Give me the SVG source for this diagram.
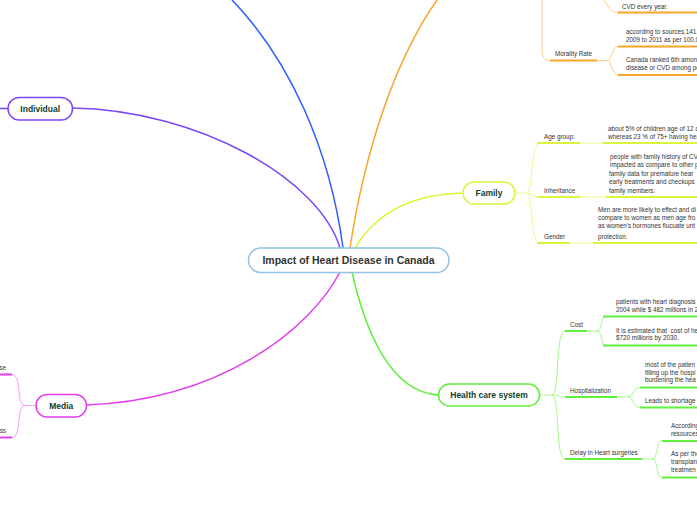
<svg xmlns="http://www.w3.org/2000/svg" width="697" height="520" viewBox="0 0 697 520">
<style>
.nt{font-family:"Liberation Sans",Arial,sans-serif;font-weight:bold;font-size:8.5px;fill:#10402f;text-anchor:middle}
.ct{font-family:"Liberation Sans",Arial,sans-serif;font-weight:bold;font-size:10.5px;fill:#333;text-anchor:middle}
.st{font-family:"Liberation Sans",Arial,sans-serif;font-size:6.3px;fill:#333;white-space:pre}
.main{fill:none;stroke-width:1.5}
.thin{fill:none;stroke-width:1}
.thick{fill:none;stroke-width:2}
.node{fill:#fff;stroke-width:1.5}
</style>
<rect width="697" height="520" fill="#fff"/>
<g id="connectors">
  <!-- main branches -->
  <path class="main" stroke="#2f5cff" d="M343,248 C330,150 290,60 232,0"/>
  <path class="main" stroke="#f9a52a" d="M350,248 C365,150 395,60 437,0"/>
  <path class="main" stroke="#7d46f5" d="M340,248 C320,180 200,110 72,108"/>
  <path class="main" stroke="#e33cf0" d="M340,272 C310,330 220,400 86,405"/>
  <path class="main" stroke="#dcf53c" d="M355,248 C375,215 410,194 463,193"/>
  <path class="main" stroke="#5ff03c" d="M352,272 C365,330 390,392 438,395"/>
  <!-- individual -->
  <path class="main" stroke="#7d46f5" d="M0,108.5 L8,108.5"/>
  <!-- orange top -->
  <path class="thin" stroke="#fcd08a" d="M542,0 L542,50 C542,58 545,60.5 550,60.5"/>
  <path class="thick" stroke="#f9a52a" d="M550,60.5 L597,60.5"/>
  <path class="thin" stroke="#fcd08a" d="M597,60.5 L607,60.5 C612,60.5 612,46.5 618,46.5 M607,60.5 C612,60.5 612,75 618,75 M604,0 C608,5 609,12.5 618,12.5"/>
  <path class="thick" stroke="#f9a52a" d="M618,12.5 L697,12.5 M618,46.5 L697,46.5 M618,75 L697,75"/>
  <!-- family -->
  <path class="thin" stroke="#ecfb8c" d="M515,193 L527,193 C533,193 530,143 540,143 M527,193 C532,193 533,197 540,197 M527,193 C533,193 530,243 540,243"/>
  <path class="thick" stroke="#dcf53c" d="M537,143 L580,143 M537,197 L580,197 M537,243 L570,243"/>
  <path class="thin" stroke="#ecfb8c" d="M580,143 L603,143 M580,197 L606,197 M570,243 L593,243"/>
  <path class="thick" stroke="#dcf53c" d="M603,143 L697,143 M606,197 L697,197 M593,243 L697,243"/>
  <!-- health -->
  <path class="thin" stroke="#a8f78e" d="M540,395 L552,395 C560,395 555,331 565,331 M552,395 C558,395 558,397 565,397 M552,395 C560,395 555,459 565,459"/>
  <path class="thick" stroke="#5ff03c" d="M565,331 L587,331 M565,397 L617,397 M565,459 L642,459"/>
  <path class="thin" stroke="#a8f78e" d="M587,331 L597,331 C603,331 600,316.5 606,316.5 M597,331 C603,331 600,345.5 606,345.5 M617,397 L628,397 C634,397 632,387.5 640,387.5 M628,397 C634,397 632,407.5 640,407.5 M642,459 L652,459 C659,459 655,441 662,441 M652,459 C659,459 655,477.5 662,477.5"/>
  <path class="thick" stroke="#5ff03c" d="M603,316.5 L697,316.5 M603,345.5 L697,345.5 M640,387.5 L697,387.5 M640,407.5 L697,407.5 M662,441 L697,441 M662,477.5 L697,477.5"/>
  <!-- media -->
  <path class="thick" stroke="#e33cf0" d="M0,374.5 L12,374.5 M0,437.5 L12,437.5"/>
  <path class="thin" stroke="#f39cf8" d="M36,405.5 L25,405.5 C16,405.5 22,374.5 12,374.5 M25,405.5 C16,405.5 22,437.5 12,437.5"/>
</g>
<g id="central">
  <rect class="node" stroke="#8ec2e6" x="248.5" y="248" width="200.5" height="24.5" rx="12.25"/>
  <text class="ct" x="348.5" y="264.3">Impact of Heart Disease in Canada</text>
</g>
<g id="individual">
  <rect class="node" stroke="#7d46f5" x="8" y="97.5" width="64.5" height="22.5" rx="11.25"/>
  <text class="nt" x="40.2" y="111.8">Individual</text>
</g>
<g id="media">
  <rect class="node" stroke="#e33cf0" x="36" y="394.5" width="50.5" height="22.5" rx="11.25"/>
  <text class="nt" x="61.2" y="408.8">Media</text>
  <text class="st" x="6" y="370" text-anchor="end">se</text>
  <text class="st" x="6" y="432.5" text-anchor="end">ss</text>
</g>
<g id="family">
  <rect class="node" stroke="#dcf53c" x="463" y="182" width="52" height="22" rx="11"/>
  <text class="nt" x="489" y="196">Family</text>
  <text class="st" x="544" y="138.5">Age group:</text>
  <text class="st" x="608" y="130.5">about 5% of children age of 12 a</text>
  <text class="st" x="608" y="138.8">whereas 23 % of 75+ having hea</text>
  <text class="st" x="544" y="192.5">Inheritance</text>
  <text class="st" x="610" y="158.5">people with family history of CV</text>
  <text class="st" x="610" y="167">impacted as compare to other p</text>
  <text class="st" x="609" y="175.5">family data for premature hear</text>
  <text class="st" x="609" y="184">early treatments and checkups</text>
  <text class="st" x="609" y="192.5">family members.</text>
  <text class="st" x="544" y="238.5">Gender</text>
  <text class="st" x="598" y="211.5">Men are more likely to effect and di</text>
  <text class="st" x="598" y="219.8">compare to women as men age fro</text>
  <text class="st" x="598" y="228">as women's hormones flucuate unt</text>
  <text class="st" x="598" y="238.5">protection.</text>
</g>
<g id="health">
  <rect class="node" stroke="#5ff03c" x="438.5" y="384" width="101" height="22" rx="11"/>
  <text class="nt" x="489" y="398">Health care system</text>
  <text class="st" x="570" y="326.5">Cost</text>
  <text class="st" x="616" y="303.5">patients with heart diagnosis</text>
  <text class="st" x="616" y="311.5">2004 while $ 482 millions in 2</text>
  <text class="st" x="616" y="332.5">It is estimated that  cost of he</text>
  <text class="st" x="616" y="340">$720 millions by 2030.</text>
  <text class="st" x="570" y="392.5">Hospitalization</text>
  <text class="st" x="645" y="366.5">most of the patien</text>
  <text class="st" x="645" y="374.5">filling up the hospi</text>
  <text class="st" x="645" y="382">burdening the hea</text>
  <text class="st" x="645" y="402.5">Leads to shortage</text>
  <text class="st" x="570" y="454.5">Delay in Heart surgeries</text>
  <text class="st" x="671" y="427.5">According</text>
  <text class="st" x="671" y="436">resources</text>
  <text class="st" x="671" y="455.5">As per the</text>
  <text class="st" x="671" y="464">transplan</text>
  <text class="st" x="671" y="471.8">treatmen</text>
</g>
<g id="cvd">
  <text class="st" x="622" y="8.5">CVD every year.</text>
  <text class="st" x="555" y="55.5">Morality Rate</text>
  <text class="st" x="626" y="34">according to sources,141.</text>
  <text class="st" x="626" y="41.5">2009 to 2011 as per 100,0</text>
  <text class="st" x="626" y="61.8">Canada ranked 6th amon</text>
  <text class="st" x="626" y="69.8">disease or CVD among pe</text>
</g>
</svg>
